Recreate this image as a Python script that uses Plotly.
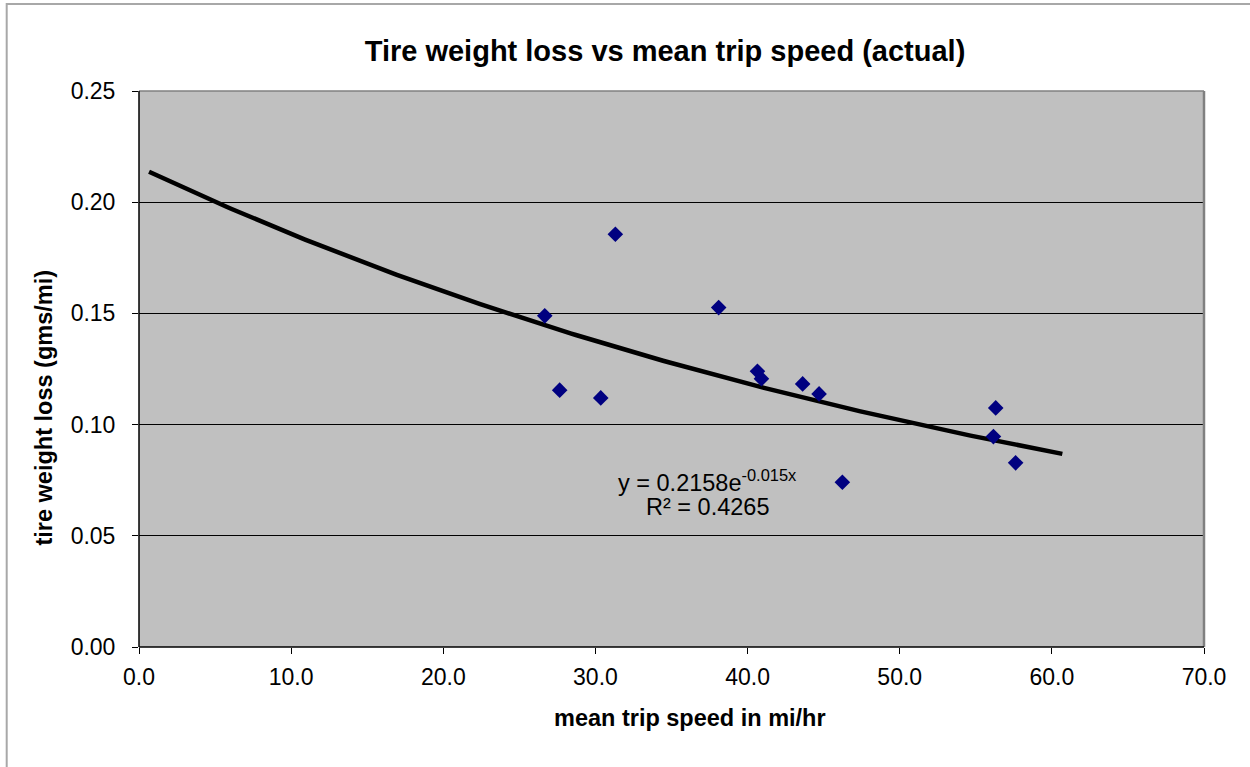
import numpy as np
import plotly.graph_objects as go

# Data
speed = [26.67, 27.65, 30.35, 31.31, 38.10, 40.65, 40.91, 43.62, 44.70, 46.23, 56.31, 56.16, 57.62]
loss = [0.1489, 0.1155, 0.1120, 0.1856, 0.1526, 0.1240, 0.1206, 0.1183, 0.1138, 0.0741, 0.1075, 0.0946, 0.0828]

# Exponential trendline as stated in the chart: y = 0.2158 e^(-0.015 x)
trend_a = 0.2158
trend_b = -0.015
trend_x_start = 0.66
trend_x_end = 60.69

x_ticks = [0, 10, 20, 30, 40, 50, 60, 70]
y_ticks = [0.0, 0.05, 0.10, 0.15, 0.20, 0.25]

tx = np.linspace(trend_x_start, trend_x_end, 200)
ty = trend_a * np.exp(trend_b * tx)

FONT = "Liberation Sans, Arial, sans-serif"

# plot area in page pixels
PL, PR, PT, PB = 139.3, 1204.3, 91.0, 647.3
W, H = 1250, 767


def px_x(px):
    return (px - PL) / (PR - PL)


def px_y(py):
    return (PB - py) / (PB - PT)


fig = go.Figure()
fig.add_trace(go.Scatter(
    x=tx, y=ty, mode="lines",
    line=dict(color="black", width=4.5),
    showlegend=False, hoverinfo="skip",
))
fig.add_trace(go.Scatter(
    x=speed, y=loss, mode="markers",
    marker=dict(symbol="diamond", size=12, color="#000080", line=dict(width=0)),
    showlegend=False,
))

fig.update_layout(
    width=W, height=H,
    margin=dict(l=PL, r=W - PR, t=PT, b=H - PB, pad=0),
    paper_bgcolor="white",
    plot_bgcolor="#C0C0C0",
    font=dict(family=FONT, color="black", size=23),
    title=dict(
        text="<b>Tire weight loss vs mean trip speed (actual)</b>",
        x=665 / W, xanchor="center",
        y=1 - 51 / H, yanchor="middle",
        font=dict(size=29, family=FONT, color="black"),
    ),
    xaxis=dict(
        range=[0, 70], tickvals=x_ticks,
        ticktext=[f"{v:.1f}" for v in x_ticks],
        ticks="outside", ticklen=6, tickcolor="black", tickwidth=1,
        showline=False,
        showgrid=False, zeroline=False,
        tickfont=dict(size=23),
        ticklabelstandoff=3,
    ),
    yaxis=dict(
        range=[0, 0.25], tickvals=y_ticks,
        ticktext=[f"{v:.2f}" for v in y_ticks],
        ticks="outside", ticklen=6, tickcolor="black", tickwidth=1,
        showline=False,
        showgrid=True, gridcolor="black", gridwidth=1,
        zeroline=False,
        tickfont=dict(size=23),
        ticklabelstandoff=12,
    ),
    annotations=[
        # x-axis title
        dict(
            x=px_x(690), y=px_y(718), xref="paper", yref="paper",
            text="<b>mean trip speed in mi/hr</b>", showarrow=False,
            font=dict(size=23.5, family=FONT, color="black"),
            xanchor="center", yanchor="middle",
        ),
        # y-axis title
        dict(
            x=px_x(44), y=px_y(408), xref="paper", yref="paper",
            text="<b>tire weight loss (gms/mi)</b>", showarrow=False, textangle=-90,
            font=dict(size=23.5, family=FONT, color="black"),
            xanchor="center", yanchor="middle",
        ),
        dict(
            x=px_x(708), y=px_y(481), xref="paper", yref="paper",
            text="y = 0.2158e<sup>-0.015x</sup>", showarrow=False,
            font=dict(size=23.5, family=FONT, color="black"),
            xanchor="center", yanchor="middle",
        ),
        dict(
            x=px_x(707.5), y=px_y(507), xref="paper", yref="paper",
            text="R² = 0.4265", showarrow=False,
            font=dict(size=23.5, family=FONT, color="black"),
            xanchor="center", yanchor="middle",
        ),
    ],
    shapes=[
        # outer chart border
        dict(type="rect", xref="paper", yref="paper",
             x0=px_x(7), y0=-0.5, x1=1.2, y1=px_y(4),
             line=dict(color="#A8A8A8", width=2), layer="below"),
        # plot area border: gray top / right
        dict(type="line", xref="paper", yref="paper", x0=0, y0=1, x1=1, y1=1,
             line=dict(color="#808080", width=1.5), layer="above"),
        dict(type="line", xref="paper", yref="paper", x0=1, y0=0, x1=1, y1=1,
             line=dict(color="#808080", width=2.5), layer="above"),
        # black axis lines left / bottom
        dict(type="line", xref="paper", yref="paper", x0=0, y0=0, x1=1, y1=0,
             line=dict(color="black", width=1.5), layer="above"),
        dict(type="line", xref="paper", yref="paper", x0=0, y0=0, x1=0, y1=1,
             line=dict(color="black", width=1.5), layer="above"),
    ],
)

fig.write_html(
    "out.html",
    config={"displayModeBar": False},
    post_script="document.body.style.margin='0';document.body.style.overflow='hidden';",
)
